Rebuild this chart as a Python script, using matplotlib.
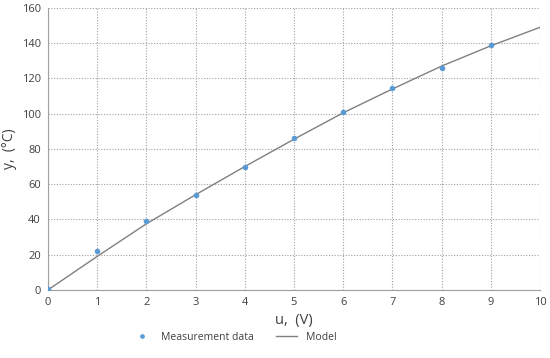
import matplotlib.pyplot as plt

plt.rcParams["font.family"] = ["Open Sans", "DejaVu Sans"]

# measured points
u_meas = [0, 1, 2, 3, 4, 5, 6, 7, 8, 9]
y_meas = [0.5, 22, 39, 54, 70, 86, 101, 114.5, 126, 139]

# model curve
u_model = [0, 1, 2, 3, 4, 5, 6, 7, 8, 9, 10]
y_model = [0, 19, 37.5, 54, 70, 85.5, 100.5, 114, 127, 138.5, 149]

fig = plt.figure(figsize=(5.5, 3.58), dpi=100)
ax = fig.add_axes([0.087, 0.19, 0.895, 0.788])

ax.plot(u_model, y_model, color="#808080", lw=1.0, label="Model", zorder=2)
ax.plot(u_meas, y_meas, "o", color="#5b9bd5", ms=3, label="Measurement data", zorder=3)

ax.set_xlim(0, 10)
ax.set_ylim(0, 160)
ax.set_xticks(range(0, 11))
ax.set_yticks(range(0, 161, 20))
ax.grid(True, color="#a0a0a0", ls=(0, (1, 1.5)), lw=0.8)
ax.tick_params(length=0, labelsize=8, colors="#404040", pad=5)

for s in ["top", "right"]:
    ax.spines[s].set_visible(False)
for s in ["left", "bottom"]:
    ax.spines[s].set_color("#a0a0a0")

ax.set_xlabel("u,  (V)", fontsize=10.5, color="#404040", labelpad=4)
ax.set_ylabel("y,  (\u00b0C)", fontsize=10, color="#404040")
ax.yaxis.set_label_coords(-0.062, 0.5)

h, l = ax.get_legend_handles_labels()
fig.legend(h[::-1], l[::-1], loc="center", bbox_to_anchor=(0.425, 0.057), ncol=2,
           frameon=False, fontsize=7.5, handlelength=2, columnspacing=2.2,
           markerscale=0.8, labelcolor="#404040")

fig.savefig("out.png")
